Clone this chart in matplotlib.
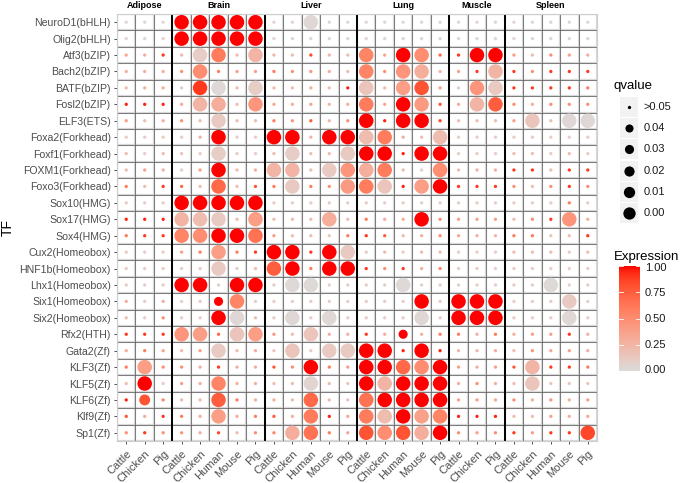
import numpy as np
import matplotlib
matplotlib.use("Agg")
import matplotlib.pyplot as plt
from matplotlib.colors import LinearSegmentedColormap
from matplotlib.patches import Rectangle

plt.rcParams['font.family'] = ['Liberation Sans', 'DejaVu Sans']

# ---- data ----
tissues = ["Adipose", "Brain", "Liver", "Lung", "Muscle", "Spleen"]
tissue_species = [
    ["Cattle", "Chicken", "Pig"],
    ["Cattle", "Chicken", "Human", "Mouse", "Pig"],
    ["Cattle", "Chicken", "Human", "Mouse", "Pig"],
    ["Cattle", "Chicken", "Human", "Mouse", "Pig"],
    ["Cattle", "Chicken", "Pig"],
    ["Cattle", "Chicken", "Human", "Mouse", "Pig"],
]
tfs = ["NeuroD1(bHLH)", "Olig2(bHLH)", "Atf3(bZIP)", "Bach2(bZIP)", "BATF(bZIP)",
       "Fosl2(bZIP)", "ELF3(ETS)", "Foxa2(Forkhead)", "Foxf1(Forkhead)",
       "FOXM1(Forkhead)", "Foxo3(Forkhead)", "Sox10(HMG)", "Sox17(HMG)", "Sox4(HMG)",
       "Cux2(Homeobox)", "HNF1b(Homeobox)", "Lhx1(Homeobox)", "Six1(Homeobox)",
       "Six2(Homeobox)", "Rfx2(HTH)", "Gata2(Zf)", "KLF3(Zf)", "KLF5(Zf)", "KLF6(Zf)",
       "Klf9(Zf)", "Sp1(Zf)"]

n = 0.1  # stands for qvalue > 0.05
# columns: Adipose(3) | Brain(5) | Liver(5) | Lung(5) | Muscle(3) | Spleen(5)
expression = [
    [.05, .05, .05, 1, 1, 1, 1, 1, .05, .05, .03, .05, .05, .05, .05, .05, .05, .05, .05, .05, .05, .05, .05, .05, .05, .05],
    [.05, .05, .05, 1, 1, 1, 1, 1, .05, .05, .05, .05, .05, .05, .05, .05, .05, .05, .05, .05, .05, .05, .05, .05, .05, .05],
    [.35, .3, .9, .2, .1, .6, .2, .25, .25, .2, .85, .25, .2, .55, .35, 1, .5, .7, .9, 1, 1, .4, .2, .5, .4, .3],
    [.3, .3, .3, .5, .5, .6, .4, .4, .6, .5, .45, .3, .2, .55, .5, .45, .3, .25, .4, .9, .25, .9, .5, .9, .9, .9],
    [.2, .3, .3, .1, .9, .02, .2, .1, .2, .2, .3, .2, .95, .15, .2, .4, .8, .4, .1, .45, .12, .9, .9, .9, .9, .6],
    [.95, .95, .95, .3, .25, .3, .2, .45, .35, .3, .35, .25, .3, .6, .35, 1, .42, .8, .3, .25, .75, .5, .3, .5, .5, .5],
    [.4, .2, .3, .5, .2, .12, .2, .2, .6, .45, .75, .25, .5, 1, .95, 1, 1, .85, .2, .2, .2, .4, .15, .2, .03, .03],
    [.1, .1, .1, .1, .3, 1, .1, .1, 1, 1, .25, 1, 1, .2, .6, .3, .2, .2, .1, .1, .1, .1, .1, .1, .1, .1],
    [.2, .1, .2, .15, .1, .1, .1, .1, .2, .1, .2, .2, .12, 1, 1, .95, 1, 1, .1, .1, .1, .2, .2, .1, .2, .1],
    [.2, .4, .3, .1, .4, 1, .2, .3, .25, .25, .2, .12, .45, .3, .6, .2, .1, .5, .2, .3, .3, .9, .9, .2, .9, .9],
    [.6, .2, .9, .7, .2, .7, .2, .8, .6, .12, .6, .5, .42, .6, .15, .95, .4, 1, .9, .9, .9, .5, .2, .5, .9, .5],
    [.1, .1, .1, 1, 1, 1, 1, 1, .1, .1, .1, .1, .1, .1, .1, .1, .1, .1, .1, .1, .1, .1, .1, .1, .6, .1],
    [.95, .95, .95, .25, .2, .12, .2, .4, .2, .2, .2, .3, .2, .6, .3, .3, 1, .5, .4, .4, .4, .2, .5, .9, .45, .3],
    [.6, .9, .9, .55, .5, 1, 1, .65, .4, .2, .2, .15, .6, .9, .75, .2, .3, .5, .35, .3, .25, .6, .6, .15, .2, .9],
    [.1, .1, .1, .4, .6, .4, .6, .9, 1, 1, .9, 1, .12, .1, .2, .1, .2, .2, .1, .1, .1, .2, .2, .2, .1, .2],
    [.1, .1, .1, .1, .1, .12, .1, .2, .75, 1, .6, 1, 1, .9, .5, .9, .3, .55, .1, .1, .1, .1, .1, .1, .1, .1],
    [.1, .1, .1, 1, 1, .1, 1, 1, .1, .02, .02, .1, .1, .1, .1, .02, .1, .1, .1, .1, .1, .1, .1, .02, .1, .1],
    [.3, .1, .3, .1, .1, 1, .55, .1, .1, .1, .1, .1, .1, .1, .1, .1, 1, .1, 1, 1, 1, .1, .1, .1, .12, .1],
    [.2, .1, .5, .1, .1, 1, .03, .2, .1, .03, .1, .03, .1, .1, .1, .1, .03, .1, 1, 1, 1, .1, .1, .1, .03, .1],
    [.9, .9, .9, .45, .4, .7, .15, .4, .45, .2, .15, .3, .3, .9, .3, 1, .3, .6, .6, .3, .6, .3, .4, .4, .9, .3],
    [.3, .6, .35, .2, .4, .12, .2, .3, .15, .15, .1, .12, .12, 1, 1, .95, 1, .95, .25, .25, .3, .2, .45, .35, .4, .3],
    [.6, .4, .5, .5, .3, .9, .3, .3, .8, .5, 1, .6, .4, 1, 1, .7, .5, 1, .4, .3, .4, .8, .25, .9, .9, .6],
    [.2, 1, .1, .4, .3, .55, .3, .3, .2, .2, .05, .2, .15, 1, .25, 1, 1, 1, .3, .5, .3, .2, .15, .15, .15, .15],
    [.95, .8, .55, .2, .2, .75, .6, .3, .3, .2, .7, .2, .15, .65, 1, 1, 1, 1, .4, .4, .35, .5, .3, .45, .3, .4],
    [.8, .3, .9, .6, .3, .4, .3, .6, .75, .3, .6, .95, .35, .6, .2, 1, .38, .55, .95, .95, .95, .2, .2, .4, .3, .35],
    [.5, .9, .5, .45, .3, .85, .2, .5, .55, .3, .65, .6, .35, .8, .5, .8, .3, 1, .5, .4, .5, .9, .4, .9, .9, .85],
]
qvalue = [
    [n, n, n, 0, 0, 0, 0, 0, n, n, 0, n, n, n, n, n, n, n, n, n, n, n, n, n, n, n],
    [n, n, n, 0, 0, 0, 0, 0, n, n, n, n, n, n, n, n, n, n, n, n, n, n, n, n, n, n],
    [n, n, n, n, 0, 0, n, 0, n, n, n, n, n, 0, n, 0, 0, n, n, 0, 0, n, n, n, n, n],
    [n, n, n, n, 0, n, n, n, n, n, n, n, n, 0, n, 0, 0, n, n, n, 0, n, n, n, n, n],
    [n, n, n, n, 0, 0, n, 0, n, n, n, n, n, 0, n, 0, 0, n, n, 0, 0, n, n, n, n, n],
    [n, n, n, n, 0, 0, n, 0, n, n, n, n, n, 0, n, 0, 0, n, n, 0, 0, n, n, n, n, n],
    [n, n, n, n, n, 0, n, n, n, n, n, n, n, 0, n, 0, 0, n, n, n, n, n, 0, n, 0, 0],
    [n, n, n, n, n, 0, n, n, 0, 0, n, 0, 0, 0, 0, n, n, 0, n, n, n, n, n, n, n, n],
    [n, n, n, n, n, 0, n, n, n, 0, n, n, 0, 0, 0, n, 0, 0, n, n, n, n, n, n, n, n],
    [n, n, n, n, n, 0, n, n, 0, 0, n, 0, 0, 0, 0, n, n, 0, n, n, n, n, n, n, n, n],
    [n, n, n, n, n, 0, n, n, n, 0, n, n, 0, 0, 0, n, 0, 0, n, n, n, n, n, n, n, n],
    [n, n, n, 0, 0, 0, 0, 0, n, n, n, n, n, n, n, n, n, n, n, n, n, n, n, n, n, n],
    [n, n, n, 0, 0, 0, n, 0, n, n, n, 0, n, n, n, n, 0, n, n, n, n, n, n, n, 0, n],
    [n, n, n, 0, 0, 0, 0, 0, n, n, n, n, n, n, n, n, n, n, n, n, n, n, n, n, n, n],
    [n, n, n, n, n, 0, n, n, 0, 0, n, 0, 0, n, n, n, n, n, n, n, n, n, n, n, n, n],
    [n, n, n, n, n, 0, n, n, 0, 0, n, 0, 0, n, n, n, n, n, n, n, n, n, n, n, n, n],
    [n, n, n, 0, 0, n, 0, 0, n, 0, 0, n, n, n, n, 0, n, n, n, n, n, n, n, 0, n, n],
    [n, n, n, n, n, .03, 0, n, n, n, n, n, n, n, n, n, 0, n, 0, 0, 0, n, n, n, 0, n],
    [n, n, n, n, n, 0, 0, n, n, 0, n, 0, n, n, n, n, 0, n, 0, 0, 0, n, n, n, 0, n],
    [n, n, n, 0, 0, n, 0, 0, n, n, 0, n, n, n, n, .03, n, n, n, n, n, n, n, n, n, n],
    [n, n, n, n, n, 0, n, n, n, 0, n, 0, 0, 0, 0, n, 0, n, n, n, n, n, n, n, n, n],
    [n, 0, n, n, n, n, n, n, n, n, 0, n, n, 0, 0, 0, 0, 0, n, n, n, n, 0, n, n, n],
    [n, 0, n, n, n, 0, n, n, n, n, 0, n, n, 0, 0, 0, 0, 0, n, n, n, n, 0, n, n, n],
    [n, .02, n, n, n, 0, n, n, n, n, 0, n, n, 0, 0, 0, 0, 0, n, n, n, n, n, n, n, n],
    [n, n, n, n, n, 0, n, n, n, n, 0, n, n, 0, 0, 0, 0, 0, n, n, n, n, n, n, n, n],
    [n, n, n, n, n, n, n, n, n, 0, 0, n, n, 0, 0, 0, 0, 0, n, n, n, n, n, n, n, 0],
]
q_legend = [">0.05", "0.04", "0.03", "0.02", "0.01", "0.00"]
q_legend_vals = [n, 0.04, 0.03, 0.02, 0.01, 0.0]
expr_ticks = [0.0, 0.25, 0.5, 0.75, 1.0]


# grey -> red gradient interpolated in Lab space (like ggplot)
def to_lab(rgb):
    c = np.array(rgb, float)
    c = np.where(c <= 0.04045, c / 12.92, ((c + 0.055) / 1.055) ** 2.4)
    M = np.array([[0.4124, 0.3576, 0.1805], [0.2126, 0.7152, 0.0722], [0.0193, 0.1192, 0.9505]])
    xyz = M @ c / np.array([0.95047, 1.0, 1.08883])
    f = np.where(xyz > 0.008856, np.cbrt(xyz), 7.787 * xyz + 16 / 116)
    return np.array([116 * f[1] - 16, 500 * (f[0] - f[1]), 200 * (f[1] - f[2])])


def from_lab(lab):
    fy = (lab[0] + 16) / 116
    f = np.array([fy + lab[1] / 500, fy, fy - lab[2] / 200])
    xyz = np.where(f ** 3 > 0.008856, f ** 3, (f - 16 / 116) / 7.787) * np.array([0.95047, 1.0, 1.08883])
    Mi = np.array([[3.2406, -1.5372, -0.4986], [-0.9689, 1.8758, 0.0415], [0.0557, -0.2040, 1.0570]])
    c = Mi @ xyz
    c = np.where(c <= 0.0031308, 12.92 * c, 1.055 * np.clip(c, 0, None) ** (1 / 2.4) - 0.055)
    return np.clip(c, 0, 1)


low, high = to_lab([0.86, 0.86, 0.86]), to_lab([1.0, 0.0, 0.0])
cmap = LinearSegmentedColormap.from_list(
    "gr", [from_lab(low + (high - low) * t) for t in np.linspace(0, 1, 21)])


def dot_size(q):
    d = 3.3 if q > 0.05 else 14.5 - 180 * q   # diameter in px
    return (d * 0.72) ** 2

# ---- figure ----
W, H = 685, 483
fig = plt.figure(figsize=(W / 100, H / 100), dpi=100)
ax = fig.add_axes([117 / W, 1 - 441 / H, 480 / W, 427 / H])

ncol = len(expression[0])
nrow = len(tfs)
xs, ys, cs, ss = [], [], [], []
for i in range(nrow):
    for j in range(ncol):
        xs.append(j)
        ys.append(i)
        cs.append(expression[i][j])
        ss.append(dot_size(qvalue[i][j]))

# cell grid
for k in np.arange(-0.5, ncol, 1):
    ax.axvline(k, color="#d9d9d9", lw=1.6, zorder=0)
    ax.axvline(k, color="#555555", lw=0.5, zorder=1)
for k in np.arange(-0.5, nrow, 1):
    ax.axhline(k, color="#d9d9d9", lw=1.6, zorder=0)
    ax.axhline(k, color="#555555", lw=0.5, zorder=1)

ax.scatter(xs, ys, c=cs, s=ss, cmap=cmap, vmin=0, vmax=1, linewidths=0, zorder=3)

# tissue separators and labels
start = 0
xlabels = []
for t, sp in zip(tissues, tissue_species):
    end = start + len(sp)
    if end < ncol:
        ax.axvline(end - 0.5, color="black", lw=1.4, zorder=2)
    ax.text((start + end - 1) / 2, -0.85, t, ha="center", va="baseline",
            fontsize=6.5, fontweight="bold", clip_on=False)
    xlabels += sp
    start = end

ax.set_xlim(-0.5, ncol - 0.5)
ax.set_ylim(nrow - 0.5, -0.5)
ax.set_xticks(range(ncol))
ax.set_xticklabels(xlabels, rotation=45, ha="right", va="top", rotation_mode="anchor",
                   fontsize=8, color="#4d4d4d")
ax.set_yticks(range(nrow))
ax.set_yticklabels(tfs, fontsize=7.6, color="#4d4d4d")
ax.tick_params(length=2.5, width=0.6, color="#333333", pad=2)
ax.tick_params(axis="x", pad=3)
for s in ax.spines.values():
    s.set_color("#cccccc")
    s.set_linewidth(0.8)
fig.text(8 / W, 1 - 228 / H, "TF", rotation=90, ha="center", va="center", fontsize=10)

# ---- legends (pixel-coordinate overlay) ----
lg = fig.add_axes([0, 0, 1, 1])
lg.set_xlim(0, W)
lg.set_ylim(H, 0)
lg.axis("off")
lg.text(614, 86, "qvalue", fontsize=9.5, va="center")
for k, (lab, qv) in enumerate(zip(q_legend, q_legend_vals)):
    yc = 107 + k * 21.2
    lg.add_patch(Rectangle((620, yc - 10), 18, 20, color="#f2f2f2", lw=0))
    d = 3.3 if qv > 0.05 else 12.3 - 105 * qv
    lg.scatter([629], [yc], s=(d * 0.72) ** 2, color="black", linewidths=0)
    lg.text(644, yc, lab, fontsize=8, va="center", color="#1a1a1a")

lg.text(614, 257, "Expression", fontsize=9.5, va="center")
cb = fig.add_axes([619 / W, 1 - 371 / H, 21 / W, 105 / H])
cb.imshow(np.linspace(1, 0, 200)[:, None], aspect="auto", cmap=cmap, vmin=0, vmax=1,
          extent=[0, 1, 0, 1])
cb.set_xlim(0, 1)
cb.set_ylim(0, 1)
cb.axis("off")
for v in expr_ticks:
    cb.plot([0, 0.2], [v, v], color="white", lw=0.6)
    cb.plot([0.8, 1], [v, v], color="white", lw=0.6)
    lg.text(645, 371 - v * 102 - 1, f"{v:.2f}", fontsize=8, va="center", color="#1a1a1a")

fig.savefig("out.png", dpi=100)
